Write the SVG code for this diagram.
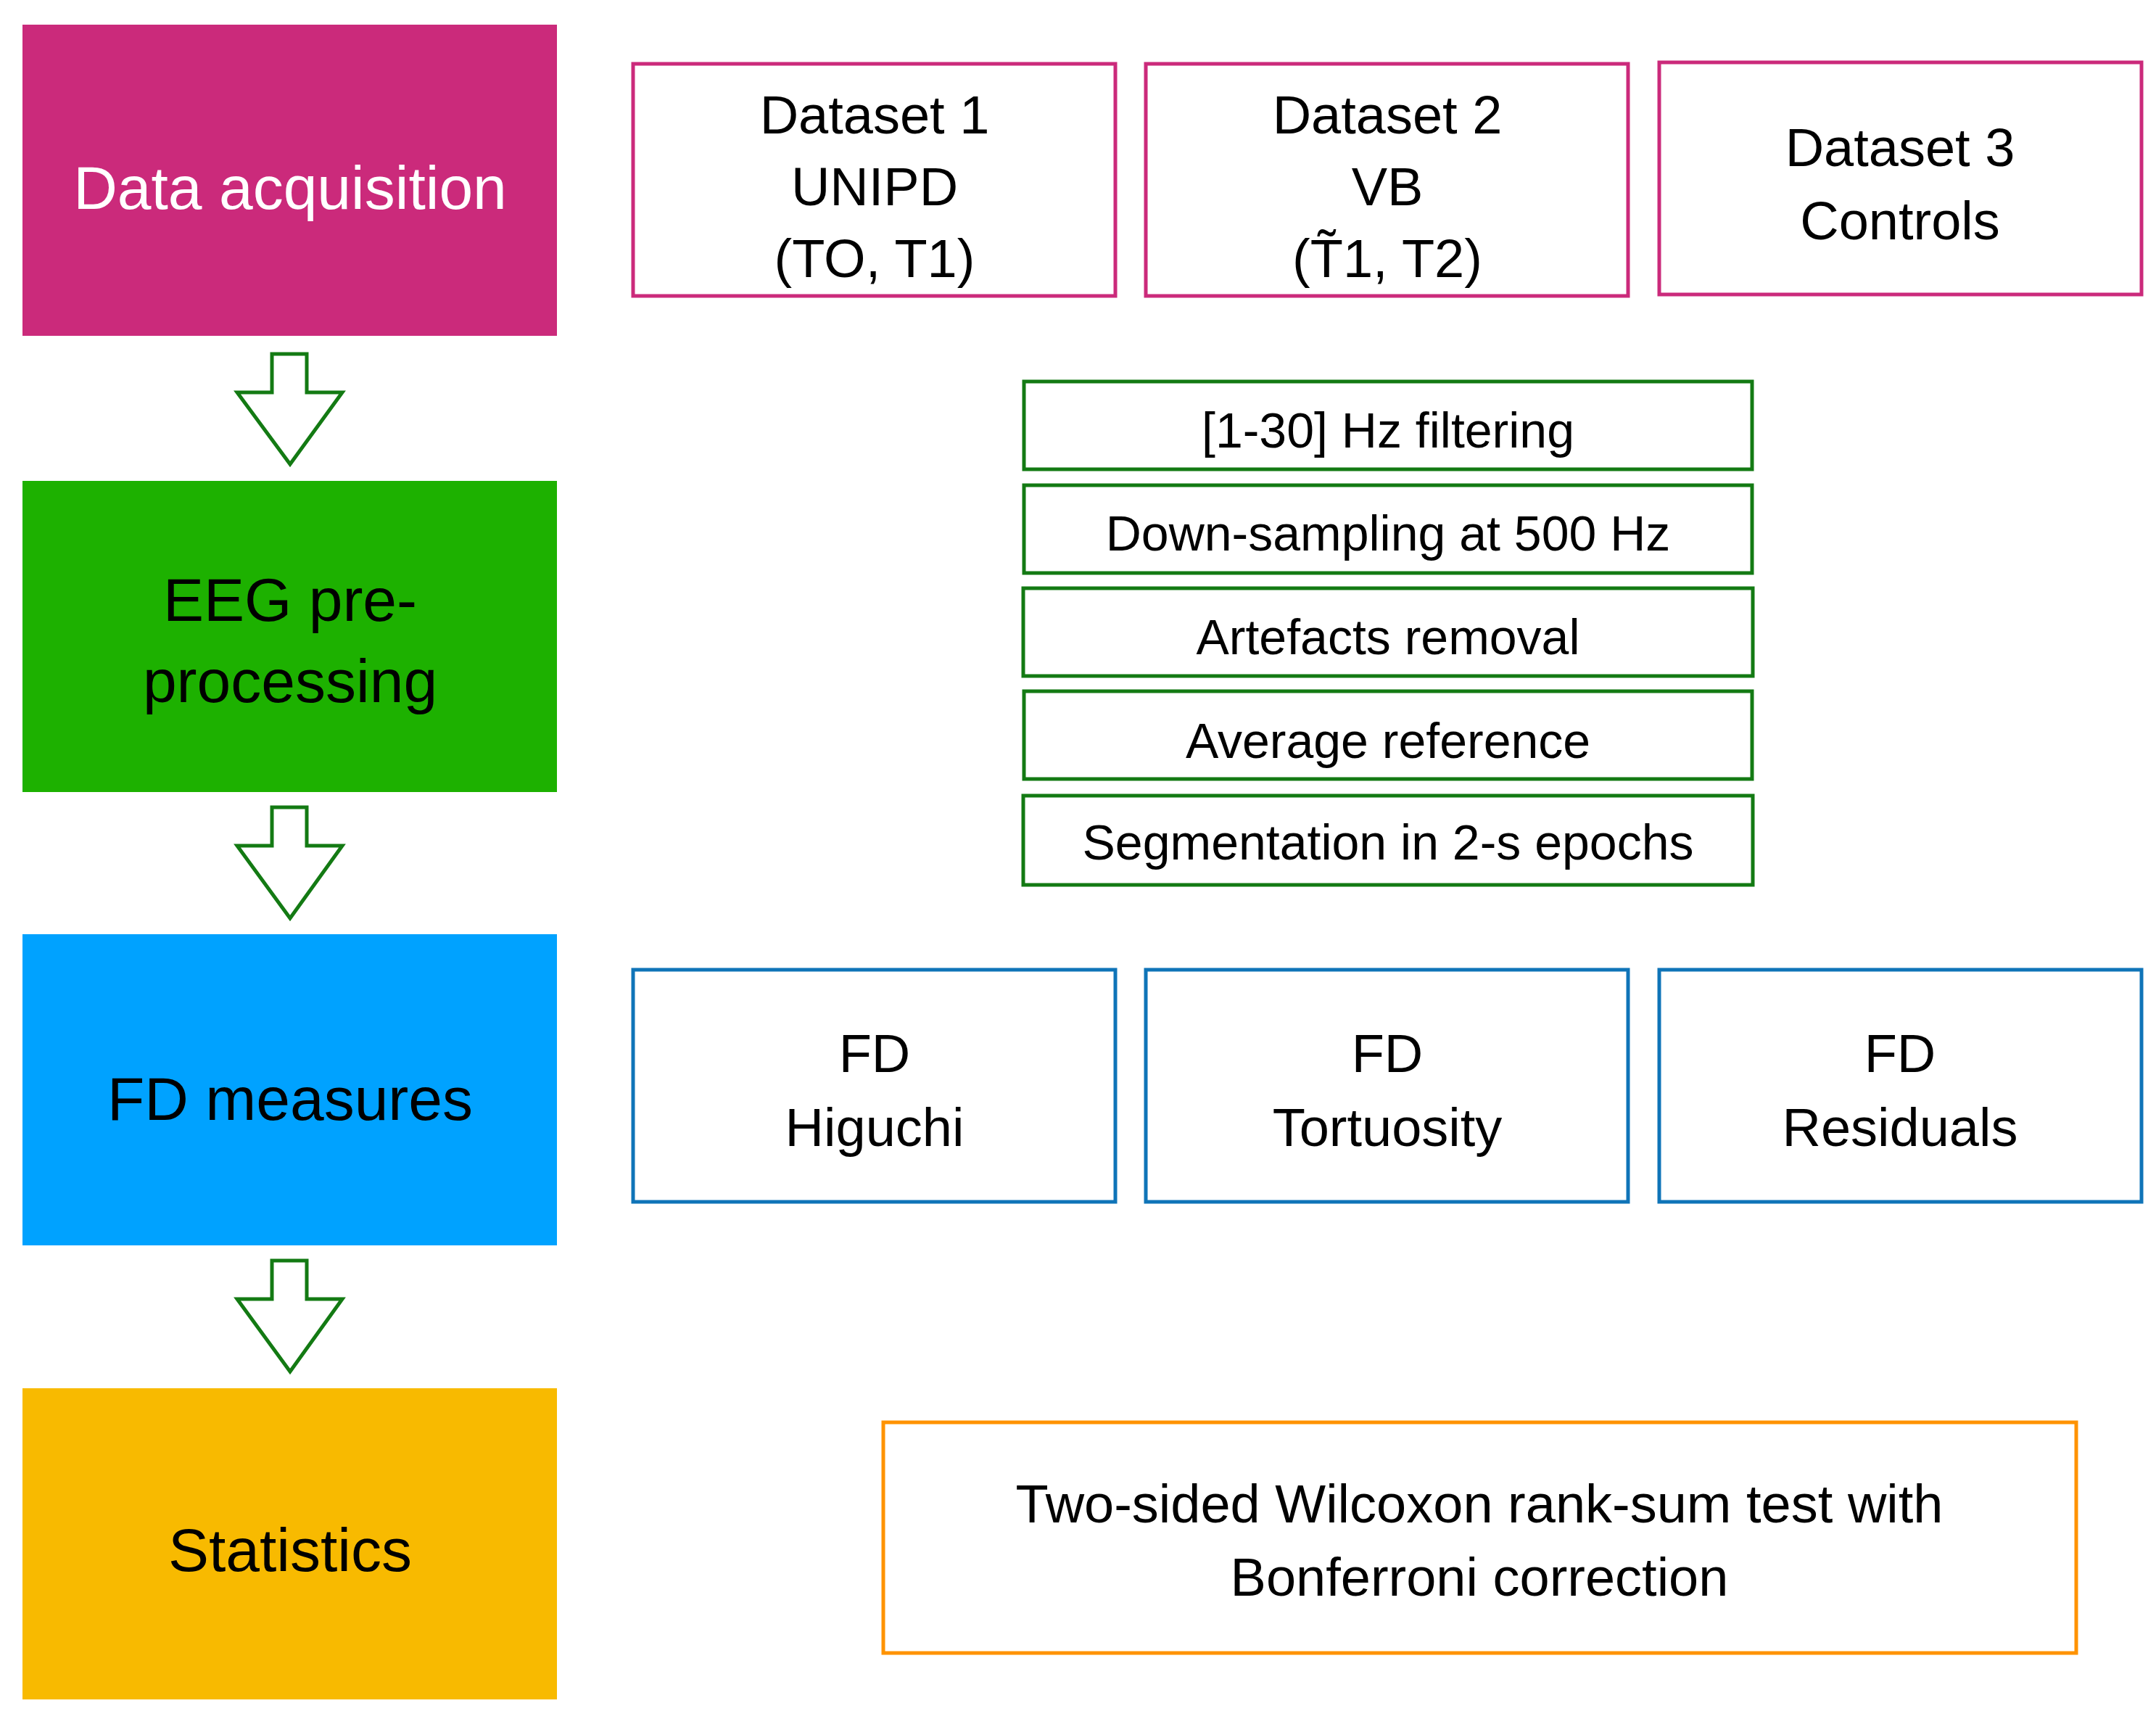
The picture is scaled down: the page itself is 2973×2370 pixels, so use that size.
<svg xmlns="http://www.w3.org/2000/svg" width="2973" height="2370" viewBox="0 0 2973 2370">
<style>
text{font-family:"Liberation Sans","DejaVu Sans",sans-serif;text-anchor:middle;fill:#000}
.L{font-size:84px}
.D{font-size:74px}
.G{font-size:68px}
.box{fill:#fff;stroke-width:5}
.arr{fill:#fff;stroke:#137A13;stroke-width:5}
</style>
<rect width="2973" height="2370" fill="#fff"/>
<g id="data-acquisition"><rect x="31" y="34" width="737" height="429" fill="#CB2A7B"/><text class="L" x="400" y="288" style="fill:#fff">Data acquisition</text></g>
<g id="eeg-preprocessing"><rect x="31" y="663" width="737" height="429" fill="#1DB100"/><text class="L" x="400" y="856">EEG pre-</text><text class="L" x="400" y="968">processing</text></g>
<g id="fd-measures"><rect x="31" y="1288" width="737" height="429" fill="#00A2FF"/><text class="L" x="400" y="1544">FD measures</text></g>
<g id="statistics"><rect x="31" y="1914" width="737" height="429" fill="#F8BA00"/><text class="L" x="400" y="2166">Statistics</text></g>
<g id="dataset1"><rect class="box" x="873" y="88" width="665" height="320" stroke="#CB2A7B"/><text class="D" x="1206" y="184">Dataset 1</text><text class="D" x="1206" y="283">UNIPD</text><text class="D" x="1206" y="382">(TO, T1)</text></g>
<g id="dataset2"><rect class="box" x="1580" y="88" width="665" height="320" stroke="#CB2A7B"/><text class="D" x="1913" y="184">Dataset 2</text><text class="D" x="1913" y="283">VB</text><text class="D" x="1913" y="382">(T̃1, T2)</text></g>
<g id="dataset3"><rect class="box" x="2288" y="86" width="665" height="320" stroke="#CB2A7B"/><text class="D" x="2620" y="229">Dataset 3</text><text class="D" x="2620" y="330">Controls</text></g>
<g id="filtering"><rect class="box" x="1412" y="526" width="1004" height="121" stroke="#137A13"/><text class="G" x="1914" y="617">[1-30] Hz filtering</text></g>
<g id="downsampling"><rect class="box" x="1412" y="669" width="1004" height="121" stroke="#137A13"/><text class="G" x="1914" y="759">Down-sampling at 500 Hz</text></g>
<g id="artefacts"><rect class="box" x="1411" y="811" width="1006" height="121" stroke="#137A13"/><text class="G" x="1914" y="902">Artefacts removal</text></g>
<g id="average-ref"><rect class="box" x="1412" y="953" width="1004" height="121" stroke="#137A13"/><text class="G" x="1914" y="1045">Average reference</text></g>
<g id="segmentation"><rect class="box" x="1411" y="1097" width="1006" height="123" stroke="#137A13"/><text class="G" x="1914" y="1185">Segmentation in 2-s epochs</text></g>
<g id="fd-higuchi"><rect class="box" x="873" y="1337" width="665" height="320" stroke="#0F74B8"/><text class="D" x="1206" y="1478">FD</text><text class="D" x="1206" y="1580">Higuchi</text></g>
<g id="fd-tortuosity"><rect class="box" x="1580" y="1337" width="665" height="320" stroke="#0F74B8"/><text class="D" x="1913" y="1478">FD</text><text class="D" x="1913" y="1580">Tortuosity</text></g>
<g id="fd-residuals"><rect class="box" x="2288" y="1337" width="665" height="320" stroke="#0F74B8"/><text class="D" x="2620" y="1478">FD</text><text class="D" x="2620" y="1580">Residuals</text></g>
<g id="wilcoxon"><rect class="box" x="1218" y="1961" width="1645" height="318" stroke="#FF9300"/><text class="D" x="2040" y="2099">Two-sided Wilcoxon rank-sum test with</text><text class="D" x="2040" y="2200">Bonferroni correction</text></g>
<g id="connectors">
<polygon class="arr" points="375,488 423,488 423,541 472,541 400,640 327,541 375,541"/>
<polygon class="arr" points="375,1113 423,1113 423,1166 472,1166 400,1266 327,1166 375,1166"/>
<polygon class="arr" points="375,1738 423,1738 423,1791 472,1791 400,1891 327,1791 375,1791"/>
</g>
</svg>
